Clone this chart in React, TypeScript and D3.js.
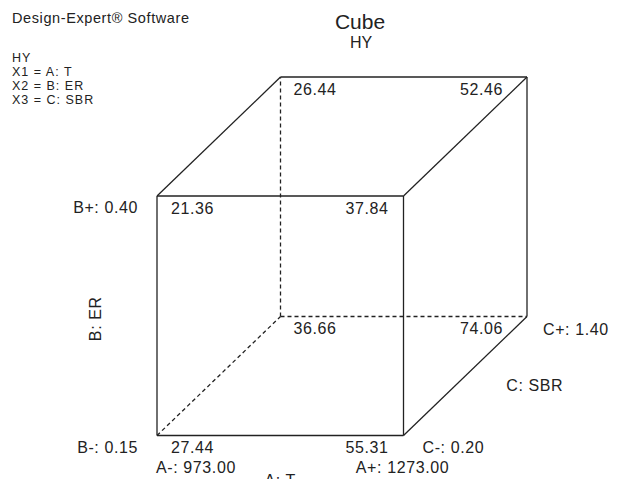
import React from "react";
import * as d3 from "d3";

const WIDTH = 621;
const HEIGHT = 479;

// factor ranges (low, high)
const A_LEVELS = [973.0, 1273.0];
const B_LEVELS = [0.15, 0.4];
const C_LEVELS = [0.2, 1.4];

// response HY at each corner: [a, b, c, value]
const CORNERS: [number, number, number, number][] = [
  [0, 0, 0, 27.44],
  [1, 0, 0, 55.31],
  [0, 1, 0, 21.36],
  [1, 1, 0, 37.84],
  [0, 0, 1, 36.66],
  [1, 0, 1, 74.06],
  [0, 1, 1, 26.44],
  [1, 1, 1, 52.46],
];

const LEGEND_LINES = ["HY", "X1 = A: T", "X2 = B: ER", "X3 = C: SBR"];

const FONT = "'Liberation Sans', Arial, sans-serif";
const INK = "#222";

// cube edges, as pairs of (a, b, c) level indices
const EDGES: [number[], number[]][] = [
  [[0, 0, 0], [1, 0, 0]],
  [[0, 1, 0], [1, 1, 0]],
  [[0, 0, 0], [0, 1, 0]],
  [[1, 0, 0], [1, 1, 0]],
  [[0, 1, 1], [1, 1, 1]],
  [[1, 0, 1], [1, 1, 1]],
  [[0, 1, 0], [0, 1, 1]],
  [[1, 1, 0], [1, 1, 1]],
  [[1, 0, 0], [1, 0, 1]],
  [[0, 0, 1], [1, 0, 1]],
  [[0, 0, 1], [0, 1, 1]],
  [[0, 0, 0], [0, 0, 1]],
];

const App = () => {
  const x = d3.scaleLinear().domain(A_LEVELS).range([157, 403.5]);
  const y = d3.scaleLinear().domain(B_LEVELS).range([435.5, 196]);
  const depth = d3.scaleLinear().domain(C_LEVELS).range([0, 1]);
  const DX = 123.5;
  const DY = -119;

  const fmt2 = d3.format(".2f");
  const project = (a: number, b: number, c: number) => {
    const t = depth(C_LEVELS[c]);
    return [x(A_LEVELS[a]) + DX * t, y(B_LEVELS[b]) + DY * t];
  };

  // edges touching the back-bottom-left corner are hidden
  const hidden = (p: number[], q: number[]) =>
    (p[0] === 0 && p[1] === 0 && p[2] === 1) ||
    (q[0] === 0 && q[1] === 0 && q[2] === 1);

  const textStyle = {
    fontFamily: FONT,
    fill: INK,
  } as React.CSSProperties;

  const label = {
    fontSize: 16,
    letterSpacing: 0.6,
    style: textStyle,
  };

  const xLo = x(A_LEVELS[0]);
  const xHi = x(A_LEVELS[1]);
  const yLo = y(B_LEVELS[0]);
  const yHi = y(B_LEVELS[1]);

  return (
    <svg
      width={WIDTH}
      height={HEIGHT}
      style={{ position: "absolute", left: 0, top: 0, background: "#fff" }}
    >
      <text x={12} y={23} fontSize={14.5} style={textStyle} letterSpacing={0.6}>
        Design-Expert® Software
      </text>
      {LEGEND_LINES.map((l, i) => (
        <text
          key={l}
          x={12}
          y={62 + i * 14}
          fontSize={12.5}
          style={textStyle}
          letterSpacing={1}
        >
          {l}
        </text>
      ))}
      <text x={360} y={29} fontSize={21} textAnchor="middle" style={textStyle}>
        Cube
      </text>
      <text x={361} y={48} fontSize={16} textAnchor="middle" style={textStyle}>
        HY
      </text>

      {EDGES.map(([p, q], i) => {
        const [x1, y1] = project(p[0], p[1], p[2]);
        const [x2, y2] = project(q[0], q[1], q[2]);
        return (
          <line
            key={i}
            x1={x1}
            y1={y1}
            x2={x2}
            y2={y2}
            stroke={INK}
            strokeWidth={1.3}
            strokeDasharray={hidden(p, q) ? "4,3" : undefined}
          />
        );
      })}

      {CORNERS.map(([a, b, c, v]) => {
        const [px, py] = project(a, b, c);
        const anchor = a === 0 ? "start" : "end";
        const ox = a === 0 ? (c === 1 ? 13 : 14) : c === 1 ? -24 : -15;
        return (
          <text
            key={`${a}${b}${c}`}
            x={px + ox}
            y={py + 17.5}
            textAnchor={anchor}
            {...label}
          >
            {fmt2(v)}
          </text>
        );
      })}

      {/* B axis labels */}
      <text x={xLo - 19} y={yHi + 16.5} textAnchor="end" {...label}>
        {`B+: ${fmt2(B_LEVELS[1])}`}
      </text>
      <text x={xLo - 19} y={yLo + 17} textAnchor="end" {...label}>
        {`B-: ${fmt2(B_LEVELS[0])}`}
      </text>
      <text
        transform={`translate(${xLo - 56},${(yLo + yHi) / 2 + 3}) rotate(-90)`}
        textAnchor="middle"
        {...label}
      >
        B: ER
      </text>

      {/* A axis labels */}
      <text x={xLo + 39} y={yLo + 37} textAnchor="middle" {...label}>
        {`A-: ${fmt2(A_LEVELS[0])}`}
      </text>
      <text x={xHi - 1} y={yLo + 37} textAnchor="middle" {...label}>
        {`A+: ${fmt2(A_LEVELS[1])}`}
      </text>
      <text x={(xLo + xHi) / 2} y={yLo + 50} textAnchor="middle" {...label}>
        A: T
      </text>

      {/* C axis labels */}
      <text x={xHi + 19} y={yLo + 17} {...label}>
        {`C-: ${fmt2(C_LEVELS[0])}`}
      </text>
      <text x={xHi + DX + 16} y={yLo + DY + 18} {...label}>
        {`C+: ${fmt2(C_LEVELS[1])}`}
      </text>
      <text x={xHi + DX / 2 + 41} y={yLo + DY / 2 + 15} {...label}>
        C: SBR
      </text>
    </svg>
  );
};

export default App;
